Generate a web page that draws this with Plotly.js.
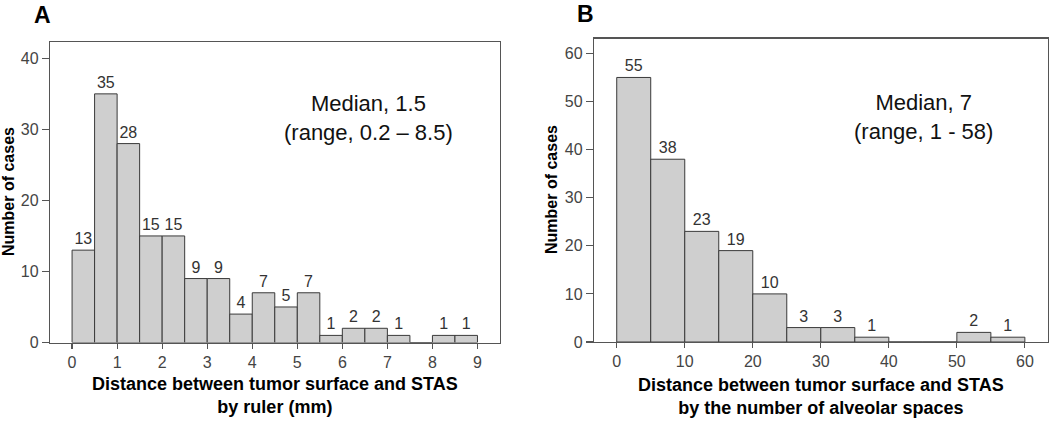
<!DOCTYPE html>
<html>
<head>
<meta charset="utf-8">
<script src="https://cdn.plot.ly/plotly-3.0.1.min.js"></script>
<style>html,body{margin:0;padding:0;background:#fff}#chart{width:1050px;height:421px}</style>
</head>
<body>
<div id="chart"></div>
<script>
// Panel A: distance by ruler (mm), bins of 0.5 mm
const binStartA = [0,0.5,1,1.5,2,2.5,3,3.5,4,4.5,5,5.5,6,6.5,7,7.5,8,8.5];
const countsA   = [13,35,28,15,15,9,9,4,7,5,7,1,2,2,1,0,1,1];
const binWidthA = 0.5;
// Panel B: distance by number of alveolar spaces, bins of 5
const binStartB = [0,5,10,15,20,25,30,35,40,45,50,55];
const countsB   = [55,38,23,19,10,3,3,1,0,0,2,1];
const binWidthB = 5;

const xTicksA = [0,1,2,3,4,5,6,7,8,9];
const yTicksA = [0,10,20,30,40];
const xTicksB = [0,10,20,30,40,50,60];
const yTicksB = [0,10,20,30,40,50,60];

const medianA = "Median, 1.5";
const rangeA  = "(range, 0.2 – 8.5)";
const medianB = "Median, 7";
const rangeB  = "(range, 1 - 58)";
const xTitleLine1 = "Distance between tumor surface and STAS";
const xTitleA2 = "by ruler (mm)";
const xTitleB2 = "by the number of alveolar spaces";
const yTitle = "Number of cases";

const W = 1050, H = 421;
const px = v => v / W;
const py = v => 1 - v / H;
const FONT = "Liberation Sans, Arial, Helvetica, sans-serif";

function barTrace(starts, counts, width, xa, ya) {
  return {
    type: 'bar',
    x: starts,
    y: counts,
    width: width,
    offset: 0,
    xaxis: xa, yaxis: ya,
    marker: {color: '#cfcfcf', line: {color: '#3a3a3a', width: 1}},
    text: counts.map(c => c > 0 ? String(c) : ''),
    textposition: 'outside',
    textfont: {family: FONT, size: 16, color: '#333'},
    cliponaxis: false,
    hoverinfo: 'x+y',
    showlegend: false
  };
}

const data = [
  barTrace(binStartA, countsA, binWidthA, 'x', 'y'),
  barTrace(binStartB, countsB, binWidthB, 'x2', 'y2')
];

const axisCommon = {
  showline: true, linecolor: '#555', linewidth: 1.2, mirror: true,
  showgrid: false, zeroline: false,
  ticks: 'outside', tickcolor: '#555', tickwidth: 1.2,
  tickfont: {family: FONT, size: 16, color: '#444'},
  fixedrange: true
};

function ann(text, x, y, size, color, extra) {
  return Object.assign({
    text: text, x: px(x), y: py(y), xref: 'paper', yref: 'paper', showarrow: false,
    xanchor: 'center', yanchor: 'middle', font: {family: FONT, size: size, color: color}
  }, extra || {});
}

const layout = {
  width: W, height: H,
  margin: {l: 0, r: 0, t: 0, b: 0},
  paper_bgcolor: '#fff', plot_bgcolor: '#fff',
  bargap: 0,
  font: {family: FONT},
  xaxis: Object.assign({}, axisCommon, {
    domain: [px(50), px(500)], range: [-0.49, 9.5],
    tickvals: xTicksA, ticklen: 5, anchor: 'y'
  }),
  yaxis: Object.assign({}, axisCommon, {
    domain: [py(342.5), py(42)], range: [0, 42.3],
    tickvals: yTicksA, ticklen: 7, anchor: 'x'
  }),
  xaxis2: Object.assign({}, axisCommon, {
    domain: [px(594), px(1048)], range: [-3.34, 63.4],
    tickvals: xTicksB, ticklen: 5, anchor: 'y2'
  }),
  yaxis2: Object.assign({}, axisCommon, {
    domain: [py(342), py(38.5)], range: [0, 63.1],
    tickvals: yTicksB, ticklen: 7, anchor: 'x2'
  }),
  annotations: [
    ann('<b>A</b>', 42, 15, 23, '#000'),
    ann('<b>B</b>', 585, 14, 23, '#000'),
    ann(medianA + '<br>' + rangeA, 368, 118, 22, '#111'),
    ann(medianB + '<br>' + rangeB, 923, 117, 22, '#111'),
    ann('<b>' + xTitleLine1 + '<br>' + xTitleA2 + '</b>', 275, 395, 18, '#000'),
    ann('<b>' + xTitleLine1 + '<br>' + xTitleB2 + '</b>', 821, 396, 18, '#000'),
    ann('<b>' + yTitle + '</b>', 9, 192, 16, '#000', {textangle: -90}),
    ann('<b>' + yTitle + '</b>', 552, 190, 16, '#000', {textangle: -90})
  ]
};

Plotly.newPlot('chart', data, layout, {displayModeBar: false, staticPlot: true});
</script>
</body>
</html>
